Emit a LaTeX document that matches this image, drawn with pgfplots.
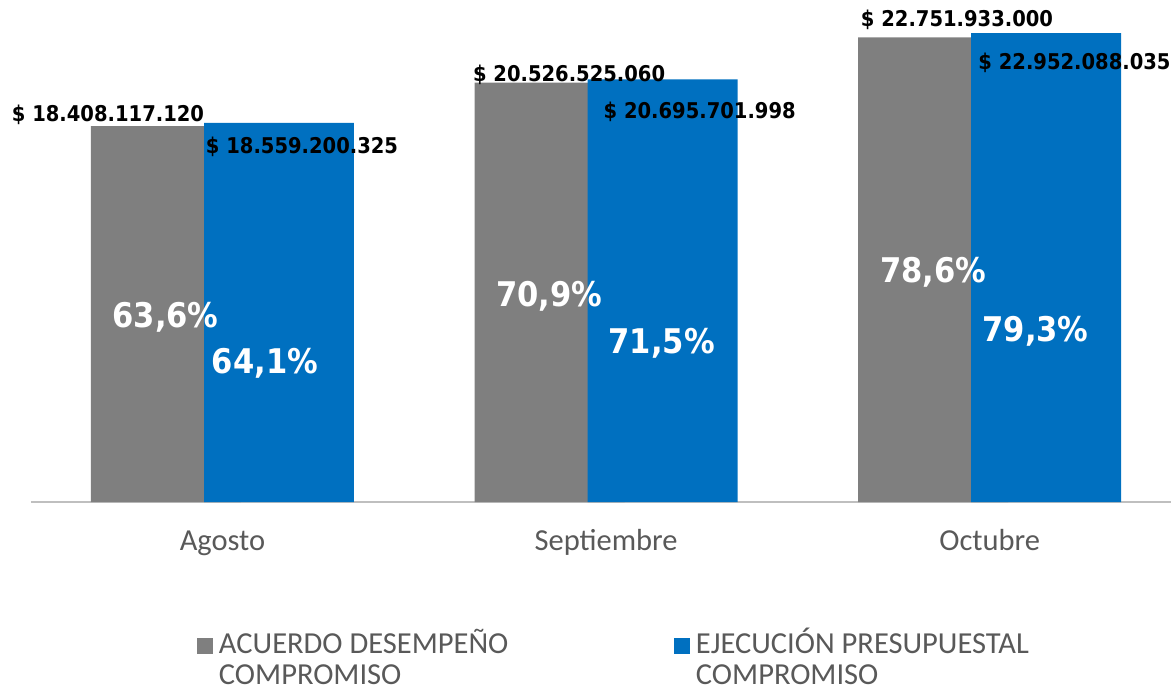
\documentclass[border=0pt]{standalone}
\usepackage{fontspec}
\setmainfont{Carlito}
\newfontfamily\labfont{DejaVu Sans Condensed}
\usepackage{pgfplots}
\usepackage{pgfplotstable}
\pgfplotsset{compat=1.18}
\definecolor{graybar}{HTML}{7F7F7F}
\definecolor{bluebar}{HTML}{0070C0}
\definecolor{axgray}{HTML}{BFBFBF}
\definecolor{txtgray}{HTML}{595959}

% values in millions of pesos; adx/ady, pdx/pdy = label offsets (pt) from bar top
\pgfplotstableread{
x y adx ady alab pdx pdy plab
0 18408.117120 -58 5 {\$ 18.408.117.120} -0.5 -201 {63,6\%}
1 20526.525060 19.5 1.7 {\$ 20.526.525.060} -0.2 -223.3 {70,9\%}
2 22751.933000 23.8 10.6 {\$ 22.751.933.000} 0.1 -245.7 {78,6\%}
}\graydata

\pgfplotstableread{
x y adx ady alab pdx pdy plab
0 18559.200325 23 -30.1 {\$ 18.559.200.325} -14 -250.1 {64,1\%}
1 20695.701998 37.1 -39 {\$ 20.695.701.998} -0.9 -274.7 {71,5\%}
2 22952.088035 28.3 -36.8 {\$ 22.952.088.035} -10.7 -308.8 {79,3\%}
}\bluedata

\begin{document}
\begin{tikzpicture}
\begin{axis}[
  scale only axis, width=1140pt, height=502pt,
  xmin=-0.4992, xmax=2.4726, ymin=0, ymax=24577,
  axis x line=bottom, axis y line=none,
  x axis line style={-, draw=axgray, line width=2.5pt},
  xtick={0,1,2}, xticklabels={Agosto,Septiembre,Octubre},
  major tick length=0pt, ytick=\empty,
  xticklabel style={anchor=base, yshift=-48pt, inner sep=0pt, text=txtgray,
    font=\fontsize{30.5}{36}\selectfont},
  clip=false,
  legend columns=2,
  legend cell align=left,
  legend style={at={(0.1456,-0.2516)}, anchor=north west, draw=none, fill=none,
    inner sep=0pt, outer sep=0pt, column sep=0pt, row sep=0pt,
    cells={anchor=base west},
    nodes={inner sep=0pt, anchor=base west, text=txtgray, font=\fontsize{30.5}{31}\selectfont}},
]
\addplot[ybar, bar width=0.391, bar shift=-0.1473, fill=graybar, draw=none,
  legend image code/.code={\fill[graybar] (0pt,0pt) rectangle (16pt,16pt);}]
  table[x=x, y=y]{\graydata};
\addlegendentry{\begin{tabular}[t]{@{\hspace{6pt}}p{455pt}@{}}ACUERDO DESEMPEÑO\\COMPROMISO\end{tabular}}
\addplot[ybar, bar width=0.391, bar shift=0.1473, fill=bluebar, draw=none,
  legend image code/.code={\fill[bluebar] (0pt,0pt) rectangle (16pt,16pt);}]
  table[x=x, y=y]{\bluedata};
\addlegendentry{\begin{tabular}[t]{@{\hspace{6pt}}p{455pt}@{}}EJECUCIÓN PRESUPUESTAL\\COMPROMISO\end{tabular}}

% amount labels
\addplot[only marks, mark=none, forget plot, point meta=explicit symbolic,
  visualization depends on={\thisrow{adx} \as \dx},
  visualization depends on={\thisrow{ady} \as \dy},
  nodes near coords,
  nodes near coords style={font=\labfont\bfseries\fontsize{21.7}{22}\selectfont, text=black,
    anchor=base, inner sep=0pt, xshift=\dx, yshift=\dy}]
  table[x expr=\thisrow{x}-0.1473, y=y, meta=alab]{\graydata};
\addplot[only marks, mark=none, forget plot, point meta=explicit symbolic,
  visualization depends on={\thisrow{adx} \as \dx},
  visualization depends on={\thisrow{ady} \as \dy},
  nodes near coords,
  nodes near coords style={font=\labfont\bfseries\fontsize{21.7}{22}\selectfont, text=black,
    anchor=base, inner sep=0pt, xshift=\dx, yshift=\dy}]
  table[x expr=\thisrow{x}+0.1473, y=y, meta=alab]{\bluedata};
% percentage labels
\addplot[only marks, mark=none, forget plot, point meta=explicit symbolic,
  visualization depends on={\thisrow{pdx} \as \dx},
  visualization depends on={\thisrow{pdy} \as \dy},
  nodes near coords,
  nodes near coords style={font=\labfont\bfseries\fontsize{34}{34}\selectfont, text=white,
    anchor=base, inner sep=0pt, xshift=\dx, yshift=\dy}]
  table[x expr=\thisrow{x}-0.1473, y=y, meta=plab]{\graydata};
\addplot[only marks, mark=none, forget plot, point meta=explicit symbolic,
  visualization depends on={\thisrow{pdx} \as \dx},
  visualization depends on={\thisrow{pdy} \as \dy},
  nodes near coords,
  nodes near coords style={font=\labfont\bfseries\fontsize{34}{34}\selectfont, text=white,
    anchor=base, inner sep=0pt, xshift=\dx, yshift=\dy}]
  table[x expr=\thisrow{x}+0.1473, y=y, meta=plab]{\bluedata};
\end{axis}
\pgfresetboundingbox
\useasboundingbox ([shift={(-31pt,-189pt)}]current axis.south west) rectangle (current axis.north east);
\end{tikzpicture}
\end{document}
